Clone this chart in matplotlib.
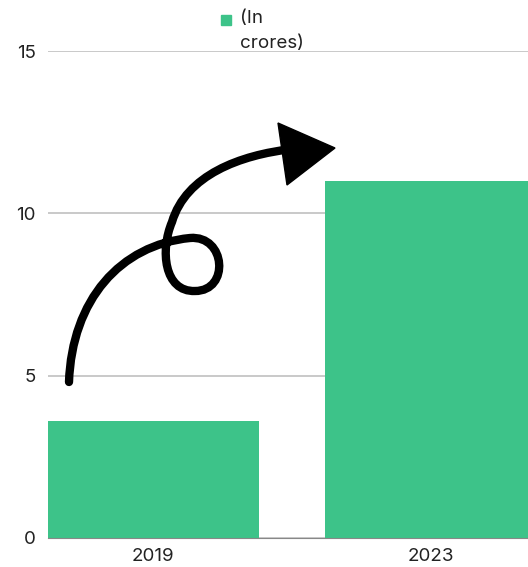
import numpy as np
import matplotlib.pyplot as plt
from matplotlib.patches import Polygon, PathPatch
from matplotlib.path import Path

years = ['2019', '2023']
values = [3.6, 11.0]
legend_label = '(In\ncrores)'
green = '#3dc389'

plt.rcParams['font.family'] = ['Inter', 'DejaVu Sans']

W, H = 528, 567
fig = plt.figure(figsize=(W / 100, H / 100), dpi=100)
ax = fig.add_axes([48 / W, (H - 538) / H, 1 - 48 / W, (538 - 51) / H])

x = np.arange(len(years))
ax.bar(x, values, width=0.76, color=green, linewidth=0, zorder=2)
ax.set_xlim(-0.38, 1.352)
ax.set_ylim(0, 15)
ax.set_yticks([0, 5, 10, 15])
ax.set_xticks(x)
ax.set_xticklabels(years)
ax.yaxis.grid(True, color='#c0c0c0', linewidth=1.2, zorder=0)
ax.set_axisbelow(True)
for s in ['left', 'right', 'top']:
    ax.spines[s].set_visible(False)
ax.spines['bottom'].set_color('#888888')
ax.tick_params(axis='both', length=0, labelsize=13.5, colors='#222222')
ax.tick_params(axis='y', pad=9)
ax.tick_params(axis='x', pad=7)

# legend
fig.patches.append(plt.Rectangle((221 / W, 1 - 25 / H), 10 / W, 10 / H,
                                 transform=fig.transFigure, color=green))
fig.text(240 / W, 1 - 10 / H, legend_label, fontsize=13.5, va='top', ha='left',
         linespacing=1.65, color='#222222')

# hand drawn arrow, pixel coords -> figure coords
def fpt(p):
    return (p[0] / W, 1 - p[1] / H)

verts = [(69, 382), (72, 300), (120, 245), (190, 238),
         (226, 235), (230, 291), (195, 291),
         (164, 292), (160, 250), (172, 222),
         (186, 175), (240, 155), (292, 149)]
codes = [Path.MOVETO] + [Path.CURVE4] * 12
path = Path([fpt(v) for v in verts], codes)
fig.patches.append(PathPatch(path, facecolor='none', edgecolor='black', linewidth=6,
                             capstyle='round', transform=fig.transFigure))
tri = [(278, 123), (335, 148), (287, 185)]
fig.patches.append(Polygon([fpt(v) for v in tri], closed=True,
                           color='black', transform=fig.transFigure))

fig.savefig('out.png', dpi=100)
